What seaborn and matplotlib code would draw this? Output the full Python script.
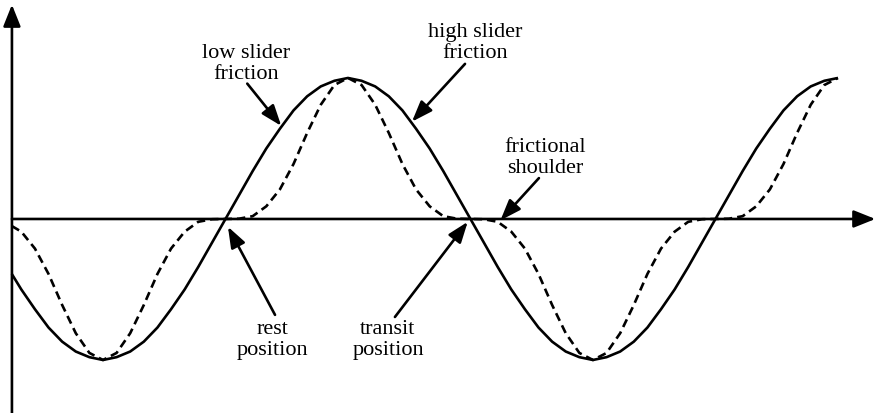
import numpy as np
import pandas as pd
import matplotlib
matplotlib.use("Agg")
import matplotlib.pyplot as plt
import seaborn as sns

# Phase of the slider motion (degrees, 0 = first trough)
phase = [-67, -60, -50, -40, -30, -20, -10, 0, 10, 20, 30, 40, 50, 60, 70, 80,
         90, 100, 110, 120, 130, 140, 150, 160, 170, 180, 190, 200, 210, 220,
         230, 240, 250, 260, 270, 280, 290, 300, 310, 320, 330, 340, 350, 360,
         370, 380, 390, 400, 410, 420, 430, 440, 450, 460, 470, 480, 490, 500,
         510, 520, 530, 540]

# Displacement with low slider friction (smooth sinusoid)
low_friction = [-0.39, -0.50, -0.64, -0.77, -0.87, -0.94, -0.98, -1.00, -0.98,
                -0.94, -0.87, -0.77, -0.64, -0.50, -0.34, -0.17, 0.00, 0.17,
                0.34, 0.50, 0.64, 0.77, 0.87, 0.94, 0.98, 1.00, 0.98, 0.94,
                0.87, 0.77, 0.64, 0.50, 0.34, 0.17, 0.00, -0.17, -0.34, -0.50,
                -0.64, -0.77, -0.87, -0.94, -0.98, -1.00, -0.98, -0.94, -0.87,
                -0.77, -0.64, -0.50, -0.34, -0.17, 0.00, 0.17, 0.34, 0.50,
                0.64, 0.77, 0.87, 0.94, 0.98, 1.00]

# Displacement with high slider friction (flattened shoulders at zero)
high_friction = [-0.05, -0.09, -0.21, -0.39, -0.61, -0.81, -0.95, -1.00, -0.95,
                 -0.81, -0.61, -0.39, -0.21, -0.09, -0.02, -0.002, 0.00, 0.002,
                 0.02, 0.09, 0.21, 0.39, 0.61, 0.81, 0.95, 1.00, 0.95, 0.81,
                 0.61, 0.39, 0.21, 0.09, 0.02, 0.002, 0.00, -0.002, -0.02,
                 -0.09, -0.21, -0.39, -0.61, -0.81, -0.95, -1.00, -0.95, -0.81,
                 -0.61, -0.39, -0.21, -0.09, -0.02, -0.002, 0.00, 0.002, 0.02,
                 0.09, 0.21, 0.39, 0.61, 0.81, 0.95, 1.00]

df = pd.DataFrame({"phase": phase, "low": low_friction, "high": high_friction})

sns.set_style("white")
plt.rcParams["font.family"] = ["Liberation Serif", "DejaVu Serif"]
plt.rcParams["text.color"] = "black"

fig = plt.figure(figsize=(8.8, 4.13), dpi=100)
ax = fig.add_axes([0, 0, 1, 1])
ax.set_xlim(-75.67, 570.9)
ax.set_ylim(-1.376, 1.553)
ax.axis("off")

LW = 1.9
sns.lineplot(data=df, x="phase", y="low", ax=ax, color="black", lw=LW,
             sort=False, solid_capstyle="butt", solid_joinstyle="round")
sns.lineplot(data=df, x="phase", y="high", ax=ax, color="black", lw=LW,
             sort=False, dashes=False, linestyle=(0, (3.2, 1.9)),
             dash_joinstyle="round")

# Coordinate axes with arrow heads
axis_arrow = dict(arrowstyle="-|>,head_length=0.6,head_width=0.24",
                  mutation_scale=22, lw=LW, color="black",
                  shrinkA=0, shrinkB=0)
ax.annotate("", xy=(-66.9, 1.52), xytext=(-66.9, -1.376),
            arrowprops=axis_arrow)
ax.annotate("", xy=(567.5, 0.0), xytext=(-66.9, 0.0),
            arrowprops=axis_arrow)

# Labelled call-outs
call_arrow = dict(arrowstyle="-|>,head_length=0.6,head_width=0.22",
                  mutation_scale=21, lw=LW, color="black",
                  shrinkA=0, shrinkB=0)
text_kw = dict(fontsize=16, ha="center", va="center", linespacing=1.15,
               color="black")

ax.text(105, 1.10, "low slider\nfriction", **text_kw)
ax.annotate("", xy=(131, 0.66), xytext=(106, 0.96), arrowprops=call_arrow)

ax.text(273.3, 1.25, "high slider\nfriction", **text_kw)
ax.annotate("", xy=(227, 0.69), xytext=(266, 1.10), arrowprops=call_arrow)

ax.text(324.7, 0.435, "frictional\nshoulder", **text_kw)
ax.annotate("", xy=(292, -0.01), xytext=(320.3, 0.29), arrowprops=call_arrow)

ax.text(124.9, -0.86, "rest\nposition", **text_kw)
ax.annotate("", xy=(91.8, -0.055), xytext=(126.4, -0.68), arrowprops=call_arrow)

ax.text(209.4, -0.86, "transit\nposition", **text_kw)
ax.annotate("", xy=(268, -0.02), xytext=(214.5, -0.695), arrowprops=call_arrow)

fig.savefig("out.png", dpi=100, facecolor="white")
